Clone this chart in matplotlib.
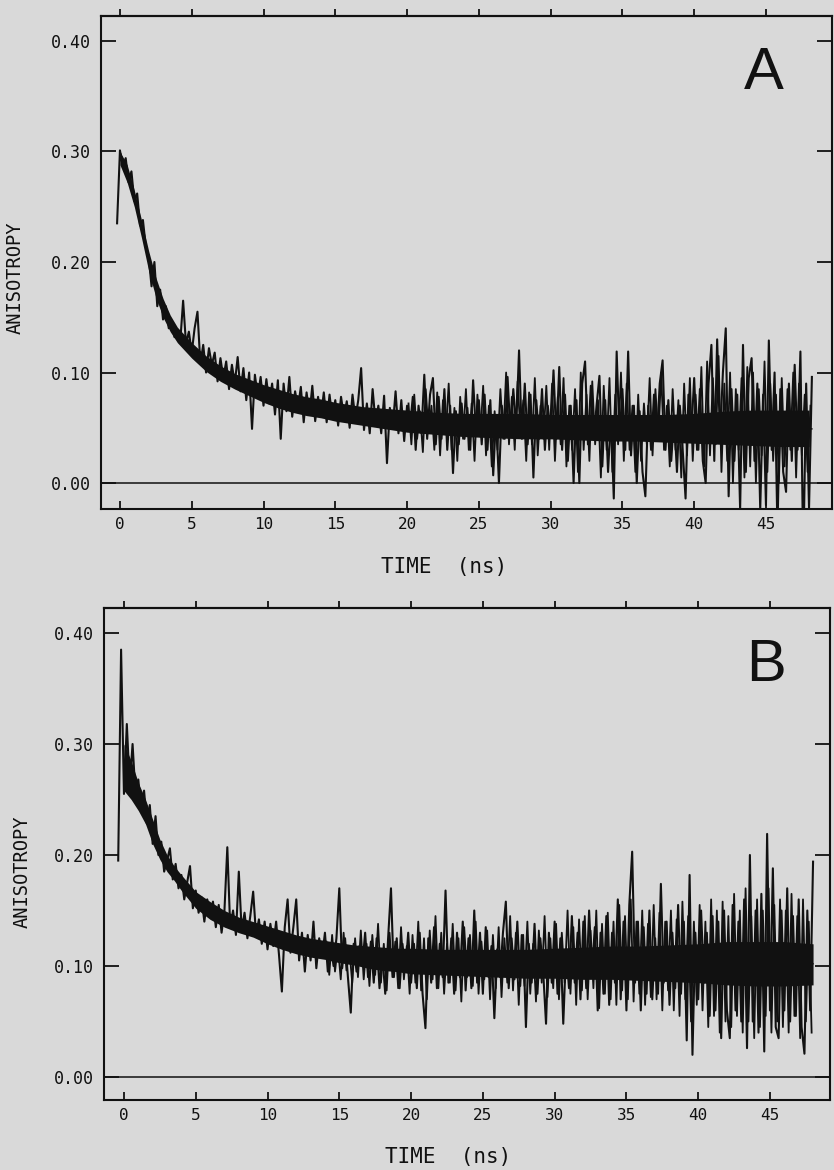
import numpy as np
import matplotlib
matplotlib.use("Agg")
import matplotlib.pyplot as plt

# ---------------- data ----------------
# Panel A: anisotropy trace, one value every 0.2 ns starting at -0.2 ns
a_t0 = -0.2
a_dt = 0.2
a_values = [
    0.235, 0.301, 0.286, 0.294, 0.272, 0.282, 0.255, 0.262, 0.233, 0.238,
    0.214, 0.205, 0.178, 0.200, 0.160, 0.175, 0.148, 0.160, 0.140, 0.146,
    0.132, 0.138, 0.128, 0.165, 0.126, 0.137, 0.118, 0.140, 0.155, 0.108,
    0.125, 0.100, 0.122, 0.107, 0.118, 0.092, 0.113, 0.095, 0.110, 0.085,
    0.107, 0.090, 0.114, 0.083, 0.104, 0.075, 0.100, 0.049, 0.098, 0.078,
    0.096, 0.070, 0.094, 0.072, 0.090, 0.062, 0.093, 0.040, 0.090, 0.065,
    0.096, 0.060, 0.083, 0.068, 0.087, 0.055, 0.082, 0.062, 0.088, 0.056,
    0.078, 0.060, 0.082, 0.055, 0.080, 0.058, 0.075, 0.052, 0.078, 0.060,
    0.074, 0.050, 0.080, 0.058, 0.075, 0.104, 0.048, 0.072, 0.045, 0.085,
    0.055, 0.070, 0.045, 0.079, 0.018, 0.068, 0.050, 0.083, 0.045, 0.075,
    0.038, 0.070, 0.050, 0.078, 0.030, 0.070, 0.045, 0.098, 0.040, 0.080,
    0.095, 0.035, 0.078, 0.040, 0.085, 0.030, 0.070, 0.009, 0.065, 0.035,
    0.072, 0.040, 0.068, 0.030, 0.093, 0.045, 0.075, 0.035, 0.080, 0.030,
    0.075, 0.007, 0.060, 0.000, 0.070, 0.040, 0.096, 0.045, 0.085, 0.050,
    0.120, 0.040, 0.090, 0.035, 0.080, 0.005, 0.075, 0.040, 0.085, 0.030,
    0.070, 0.045, 0.102, 0.040, 0.105, 0.030, 0.080, 0.020, 0.070, 0.000,
    0.075, 0.000, 0.090, 0.110, 0.035, 0.088, 0.040, 0.070, 0.097, 0.015,
    0.075, 0.010, 0.060, -0.014, 0.119, 0.040, 0.085, 0.030, 0.119, 0.025,
    0.070, 0.000, 0.065, 0.010, -0.012, 0.070, 0.030, 0.080, 0.040, 0.090,
    0.111, 0.030, 0.075, 0.020, 0.060, 0.010, 0.070, 0.030, -0.014, 0.080,
    0.045, 0.095, 0.030, 0.085, 0.020, 0.000, 0.090, 0.125, 0.020, 0.130,
    0.040, 0.100, 0.140, -0.012, 0.085, 0.020, 0.080, -0.024, 0.125, 0.010,
    0.095, 0.113, 0.020, 0.090, -0.024, 0.080, -0.020, 0.129, 0.030, 0.100,
    -0.043, 0.085, 0.010, -0.008, 0.090, 0.020, 0.107, 0.030, 0.119, -0.070,
    0.090, -0.023, 0.096,
]
# Panel A: in-between channels (0.1 ns offset) from 20.1 ns on
a2_t0 = 20.1
a2_dt = 0.2
a2_values = [
    0.072, 0.035, 0.080, 0.040, 0.065, 0.028, 0.085, 0.045, 0.070, 0.030,
    0.082, 0.025, 0.075, 0.045, 0.090, 0.030, 0.068, 0.020, 0.078, 0.040,
    0.085, 0.030, 0.072, 0.020, 0.080, 0.042, 0.088, 0.025, 0.070, 0.015,
    0.065, 0.030, 0.085, 0.040, 0.100, 0.035, 0.078, 0.030, 0.092, 0.045,
    0.075, 0.020, 0.082, 0.035, 0.095, 0.025, 0.070, 0.040, 0.088, 0.030,
    0.090, 0.020, 0.078, 0.035, 0.095, 0.015, 0.070, 0.030, 0.085, 0.010,
    0.100, 0.030, 0.080, 0.020, 0.092, 0.035, 0.075, 0.005, 0.088, 0.030,
    0.095, 0.010, 0.080, 0.035, 0.100, 0.020, 0.090, 0.030, 0.070, 0.010,
    0.080, 0.020, 0.072, 0.035, 0.095, 0.025, 0.085, 0.040, 0.100, 0.030,
    0.070, 0.015, 0.085, 0.030, 0.075, 0.005, 0.090, 0.025, 0.095, 0.020,
    0.080, 0.030, 0.105, 0.015, 0.110, 0.025, 0.095, 0.035, 0.115, 0.010,
    0.090, 0.020, 0.100, 0.000, 0.085, 0.030, 0.095, 0.005, 0.105, 0.015,
    0.100, 0.000, 0.085, 0.025, 0.110, 0.010, 0.090, 0.020, 0.080, 0.000,
    0.095, 0.015, 0.085, 0.030, 0.100, 0.005, 0.090, 0.025, 0.080, 0.010,
    0.070,
]
# Panel A: dense core of the noisy trace (solid black band)
a_band_t = [0, 0.5, 1, 1.5, 2, 2.5, 3, 3.5, 4, 5, 6, 7, 8, 9, 10, 11, 12, 13,
            14, 15, 16, 17, 18, 19, 20, 22, 24, 26, 28, 30, 32, 34, 36, 38,
            40, 42, 44, 46, 48]
a_band_lo = [0.288, 0.272, 0.250, 0.222, 0.192, 0.168, 0.150, 0.137, 0.127,
             0.113, 0.101, 0.092, 0.085, 0.079, 0.073, 0.068, 0.064, 0.061,
             0.059, 0.056, 0.054, 0.052, 0.050, 0.048, 0.046, 0.044, 0.042,
             0.041, 0.040, 0.040, 0.039, 0.038, 0.038, 0.037, 0.036, 0.035,
             0.034, 0.033, 0.033]
a_band_hi = [0.300, 0.288, 0.265, 0.238, 0.210, 0.186, 0.167, 0.152, 0.141,
             0.127, 0.115, 0.106, 0.099, 0.094, 0.089, 0.085, 0.081, 0.078,
             0.076, 0.073, 0.071, 0.069, 0.068, 0.067, 0.066, 0.064, 0.063,
             0.063, 0.063, 0.062, 0.062, 0.062, 0.062, 0.062, 0.063, 0.065,
             0.066, 0.066, 0.066]
# Panel A: fitted decay curve
a_fit_t = [0, 0.5, 1, 1.5, 2, 2.5, 3, 3.5, 4, 5, 6, 7, 8, 9, 10, 12, 14, 16,
           18, 20, 25, 30, 35, 40, 45, 48.2]
a_fit_v = [0.300, 0.280, 0.258, 0.232, 0.205, 0.182, 0.163, 0.148, 0.137,
           0.120, 0.107, 0.097, 0.089, 0.083, 0.078, 0.070, 0.065, 0.061,
           0.058, 0.056, 0.053, 0.051, 0.050, 0.049, 0.049, 0.049]

# Panel B: anisotropy trace, one value every 0.2 ns starting at -0.4 ns
b_t0 = -0.4
b_dt = 0.2
b_values = [
    0.195, 0.385, 0.255, 0.318, 0.262, 0.300, 0.255, 0.268, 0.240, 0.258,
    0.228, 0.245, 0.210, 0.235, 0.200, 0.212, 0.185, 0.195, 0.206, 0.178,
    0.192, 0.170, 0.182, 0.160, 0.175, 0.190, 0.152, 0.168, 0.148, 0.162,
    0.140, 0.160, 0.145, 0.158, 0.135, 0.155, 0.130, 0.150, 0.207, 0.135,
    0.150, 0.128, 0.185, 0.132, 0.148, 0.125, 0.145, 0.167, 0.128, 0.142,
    0.120, 0.140, 0.115, 0.138, 0.118, 0.140, 0.110, 0.077, 0.135, 0.160,
    0.112, 0.135, 0.160, 0.105, 0.130, 0.095, 0.128, 0.105, 0.140, 0.098,
    0.125, 0.108, 0.130, 0.095, 0.120, 0.100, 0.125, 0.170, 0.098, 0.125,
    0.090, 0.058, 0.120, 0.095, 0.118, 0.100, 0.130, 0.090, 0.122, 0.085,
    0.125, 0.080, 0.110, 0.075, 0.125, 0.170, 0.090, 0.125, 0.080, 0.120,
    0.095, 0.130, 0.085, 0.120, 0.080, 0.130, 0.075, 0.044, 0.125, 0.085,
    0.135, 0.080, 0.120, 0.090, 0.168, 0.085, 0.125, 0.075, 0.130, 0.090,
    0.140, 0.078, 0.125, 0.080, 0.150, 0.085, 0.130, 0.075, 0.135, 0.090,
    0.118, 0.053, 0.115, 0.090, 0.130, 0.158, 0.080, 0.125, 0.088, 0.140,
    0.082, 0.128, 0.045, 0.120, 0.085, 0.138, 0.075, 0.125, 0.095, 0.048,
    0.130, 0.085, 0.140, 0.075, 0.125, 0.048, 0.115, 0.080, 0.145, 0.085,
    0.130, 0.070, 0.140, 0.080, 0.150, 0.095, 0.135, 0.060, 0.130, 0.075,
    0.145, 0.065, 0.130, 0.085, 0.160, 0.070, 0.140, 0.060, 0.155, 0.203,
    0.085, 0.140, 0.060, 0.135, 0.075, 0.150, 0.070, 0.125, 0.075, 0.174,
    0.085, 0.140, 0.065, 0.130, 0.080, 0.155, 0.075, 0.140, 0.033, 0.182,
    0.020, 0.130, 0.070, 0.150, 0.085, 0.130, 0.055, 0.145, 0.060, 0.140,
    0.035, 0.150, 0.060, 0.035, 0.155, 0.060, 0.140, 0.050, 0.160, 0.026,
    0.200, 0.050, 0.150, 0.040, 0.165, 0.023, 0.219, 0.060, 0.188, 0.045,
    0.035, 0.150, 0.060, 0.170, 0.050, 0.145, 0.055, 0.160, 0.045, 0.021,
    0.150, 0.060, 0.194,
]
# Panel B: in-between channels (0.1 ns offset) from 14.1 ns on
b2_t0 = 14.1
b2_dt = 0.2
b2_values = [
    0.122, 0.092, 0.128, 0.095, 0.118, 0.088, 0.130, 0.096, 0.115, 0.085,
    0.125, 0.090, 0.132, 0.088, 0.120, 0.082, 0.128, 0.092, 0.138, 0.085,
    0.120, 0.078, 0.130, 0.090, 0.122, 0.080, 0.135, 0.088, 0.118, 0.075,
    0.128, 0.085, 0.140, 0.078, 0.125, 0.070, 0.132, 0.088, 0.145, 0.080,
    0.130, 0.075, 0.120, 0.085, 0.138, 0.078, 0.125, 0.068, 0.135, 0.090,
    0.128, 0.082, 0.140, 0.075, 0.122, 0.088, 0.132, 0.070, 0.128, 0.080,
    0.135, 0.072, 0.125, 0.085, 0.145, 0.078, 0.130, 0.065, 0.128, 0.082,
    0.140, 0.075, 0.120, 0.068, 0.132, 0.085, 0.145, 0.072, 0.125, 0.080,
    0.138, 0.070, 0.130, 0.085, 0.150, 0.075, 0.135, 0.065, 0.142, 0.078,
    0.145, 0.070, 0.132, 0.080, 0.150, 0.062, 0.138, 0.075, 0.148, 0.070,
    0.140, 0.065, 0.155, 0.078, 0.145, 0.070, 0.160, 0.068, 0.140, 0.075,
    0.150, 0.065, 0.138, 0.072, 0.155, 0.070, 0.148, 0.060, 0.140, 0.078,
    0.150, 0.060, 0.142, 0.055, 0.158, 0.070, 0.145, 0.050, 0.140, 0.065,
    0.155, 0.060, 0.140, 0.045, 0.160, 0.055, 0.150, 0.040, 0.158, 0.050,
    0.145, 0.045, 0.165, 0.055, 0.150, 0.040, 0.170, 0.050, 0.145, 0.035,
    0.160, 0.045, 0.150, 0.055, 0.170, 0.040, 0.155, 0.050, 0.160, 0.045,
    0.150, 0.040, 0.165, 0.055, 0.145, 0.035, 0.160, 0.050, 0.140, 0.040,
]
# Panel B: dense core of the noisy trace
b_band_t = [0, 0.5, 1, 1.5, 2, 2.5, 3, 3.5, 4, 5, 6, 7, 8, 9, 10, 11, 12, 13,
            14, 15, 16, 17, 18, 19, 20, 22, 24, 26, 28, 30, 32, 34, 36, 38,
            40, 42, 44, 46, 48]
b_band_lo = [0.258, 0.250, 0.240, 0.228, 0.210, 0.196, 0.185, 0.177, 0.168,
             0.152, 0.142, 0.135, 0.130, 0.126, 0.120, 0.115, 0.111, 0.108,
             0.106, 0.103, 0.101, 0.098, 0.096, 0.095, 0.093, 0.092, 0.091,
             0.090, 0.089, 0.089, 0.088, 0.088, 0.087, 0.086, 0.085, 0.083,
             0.082, 0.082, 0.083]
b_band_hi = [0.300, 0.285, 0.265, 0.250, 0.232, 0.214, 0.200, 0.190, 0.182,
             0.167, 0.158, 0.150, 0.144, 0.140, 0.136, 0.132, 0.128, 0.125,
             0.123, 0.121, 0.119, 0.118, 0.117, 0.116, 0.116, 0.115, 0.115,
             0.115, 0.115, 0.116, 0.117, 0.118, 0.118, 0.119, 0.120, 0.122,
             0.122, 0.122, 0.120]
# Panel B: fitted decay curve
b_fit_t = [0, 0.5, 1, 2, 3, 4, 5, 6, 7, 8, 10, 12, 14, 16, 18, 20, 25, 30,
           40, 48]
b_fit_v = [0.275, 0.262, 0.250, 0.218, 0.193, 0.175, 0.160, 0.150, 0.142,
           0.136, 0.127, 0.120, 0.115, 0.111, 0.108, 0.106, 0.104, 0.103,
           0.102, 0.102]

x_ticks = [0, 5, 10, 15, 20, 25, 30, 35, 40, 45]
x_tick_labels = ["0", "5", "10", "15", "20", "25", "30", "35", "40", "45"]
y_ticks = [0.0, 0.1, 0.2, 0.3, 0.4]
y_tick_labels = ["0.00", "0.10", "0.20", "0.30", "0.40"]
panel_letters = ["A", "B"]
y_label = "ANISOTROPY"
x_label = "TIME  (ns)"

# ---------------- styling ----------------
BG = "#d9d9d9"
INK = "#111111"
MONO = "DejaVu Sans Mono"

W, H = 834, 1170
fig = plt.figure(figsize=(W / 100, H / 100), dpi=100, facecolor=BG)

axA = fig.add_axes([101 / W, 1 - 509 / H, 731 / W, 493 / H])
axB = fig.add_axes([104 / W, 1 - 1100 / H, 726 / W, 492 / H])


def style_axes(ax, xlim, ylim, letter, letter_xy, ylab_xy):
    ax.set_facecolor(BG)
    ax.set_xlim(*xlim)
    ax.set_ylim(*ylim)
    for s in ax.spines.values():
        s.set_linewidth(1.5)
        s.set_color(INK)
    ax.set_xticks(x_ticks)
    ax.set_xticklabels(x_tick_labels, family=MONO, fontsize=11.5, color=INK)
    ax.set_yticks(y_ticks)
    ax.set_yticklabels(y_tick_labels, family=MONO, fontsize=12, color=INK)
    ax.tick_params(axis="y", direction="in", length=11, width=1.3,
                   left=True, right=True, pad=7, colors=INK)
    ax.tick_params(axis="x", direction="in", length=6, width=1.3,
                   bottom=True, top=False, pad=6, colors=INK)
    sec = ax.secondary_xaxis("top")
    sec.set_xticks(x_ticks)
    sec.tick_params(axis="x", direction="out", length=5, width=1.3,
                    labeltop=False, colors=INK)
    sec.spines["top"].set_linewidth(1.5)
    ax.axhline(0.0, color=INK, lw=1.1, zorder=1)
    ax.text(letter_xy[0], letter_xy[1], letter, transform=ax.transAxes,
            ha="center", va="center", fontsize=43, color=INK,
            family="Liberation Sans")
    ax.set_ylabel(y_label, family=MONO, fontsize=13.5, color=INK)
    ax.yaxis.set_label_coords(*ylab_xy)


# Panel A
a_t = a_t0 + a_dt * np.arange(len(a_values))
a2_t = a2_t0 + a2_dt * np.arange(len(a2_values))
axA.plot(a_fit_t, a_fit_v, color=INK, lw=1.0, zorder=2)
axA.fill_between(a_band_t, a_band_lo, a_band_hi, color=INK, lw=0, zorder=3)
axA.plot(a2_t, a2_values, color=INK, lw=1.3, zorder=4)
axA.plot(a_t, a_values, color=INK, lw=1.5, zorder=4)
style_axes(axA, (-1.32, 49.6), (-0.0235, 0.4226), panel_letters[0],
           (0.907, 0.884), (-0.104, 0.469))

# Panel B
b_t = b_t0 + b_dt * np.arange(len(b_values))
b2_t = b2_t0 + b2_dt * np.arange(len(b2_values))
axB.plot(b_fit_t, b_fit_v, color=INK, lw=1.0, zorder=2)
axB.fill_between(b_band_t, b_band_lo, b_band_hi, color=INK, lw=0, zorder=3)
axB.plot(b2_t, b2_values, color=INK, lw=1.3, zorder=4)
axB.plot(b_t, b_values, color=INK, lw=1.5, zorder=4)
style_axes(axB, (-1.39, 49.18), (-0.0207, 0.4225), panel_letters[1],
           (0.912, 0.884), (-0.100, 0.463))

fig.text(444 / W, 1 - 567 / H, x_label, ha="center", va="center",
         family=MONO, fontsize=15, color=INK)
fig.text(448 / W, 1 - 1157 / H, x_label, ha="center", va="center",
         family=MONO, fontsize=15, color=INK)

fig.savefig("out.png", dpi=100, facecolor=BG)
